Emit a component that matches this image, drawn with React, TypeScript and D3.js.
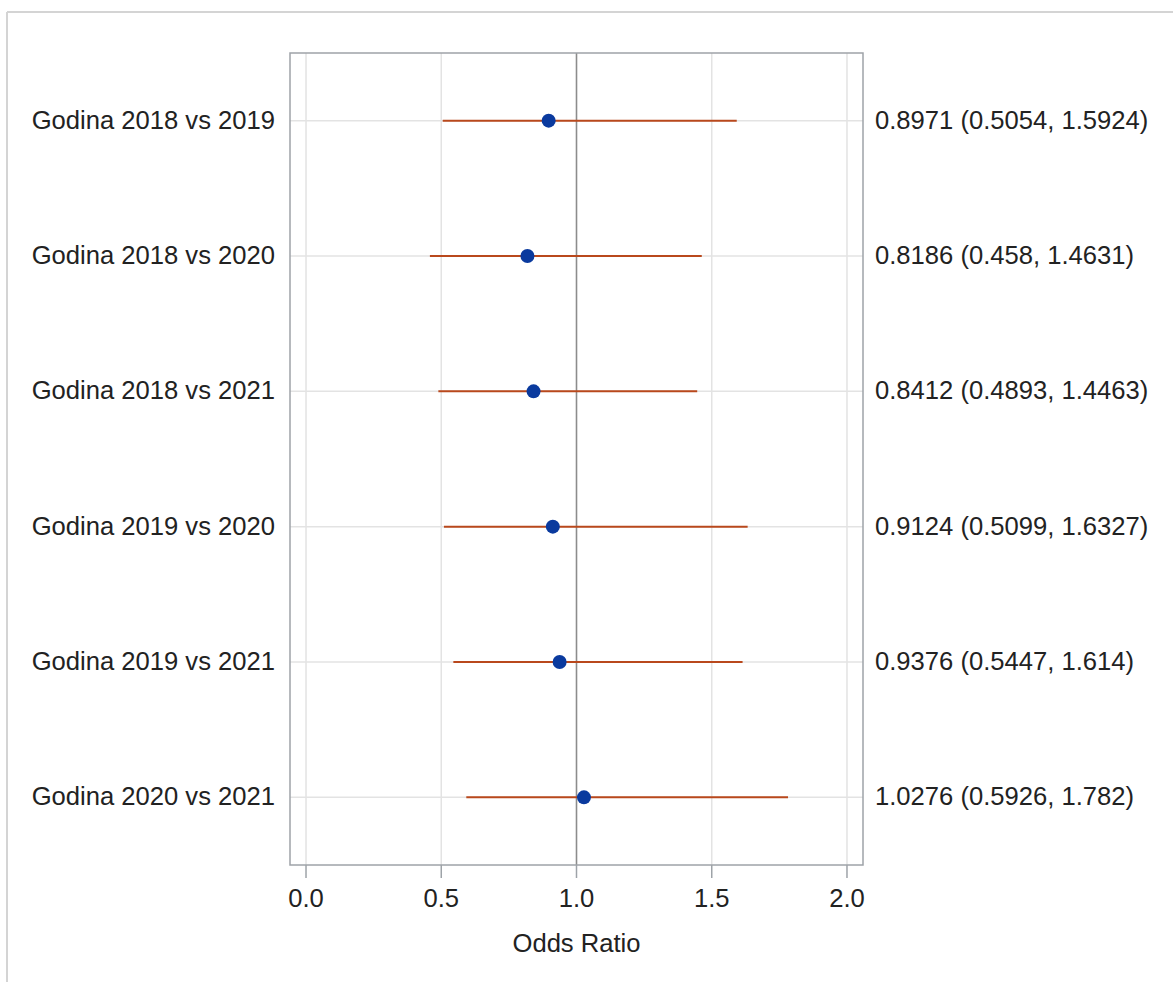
import * as d3 from "d3";

const labels = [
  "Godina 2018 vs 2019",
  "Godina 2018 vs 2020",
  "Godina 2018 vs 2021",
  "Godina 2019 vs 2020",
  "Godina 2019 vs 2021",
  "Godina 2020 vs 2021",
];
const oddsRatio = [0.8971, 0.8186, 0.8412, 0.9124, 0.9376, 1.0276];
const lower = [0.5054, 0.458, 0.4893, 0.5099, 0.5447, 0.5926];
const upper = [1.5924, 1.4631, 1.4463, 1.6327, 1.614, 1.782];
const xTicks = [0, 0.5, 1, 1.5, 2];

const W = 1173;
const H = 982;
const frame = { left: 290, right: 863, top: 53, bottom: 865 };
const font = "'Liberation Sans', Arial, Helvetica, sans-serif";
const fs = 25.6;

export default function App() {
  const x = d3
    .scaleLinear()
    .domain([-0.0592, 2.0592])
    .range([frame.left, frame.right]);
  const y = d3
    .scalePoint<string>()
    .domain(labels)
    .range([frame.top, frame.bottom])
    .padding(0.5);

  const rows = labels.map((l, i) => ({
    label: l,
    or: oddsRatio[i],
    lo: lower[i],
    hi: upper[i],
    y: y(l) ?? 0,
  }));

  return (
    <svg
      width={W}
      height={H}
      style={{ position: "absolute", left: 0, top: 0, background: "#fff" }}
      fontFamily={font}
    >
      {/* outer panel border */}
      <line x1={7} x2={W} y1={12} y2={12} stroke="#d4d4d4" strokeWidth={2} />
      <line x1={7} x2={7} y1={12} y2={H} stroke="#d4d4d4" strokeWidth={2} />

      {/* vertical grid */}
      {xTicks.map((t) => (
        <line
          key={"gx" + t}
          x1={x(t)}
          x2={x(t)}
          y1={frame.top}
          y2={frame.bottom}
          stroke="#e3e3e3"
          strokeWidth={1.5}
        />
      ))}
      {/* horizontal grid */}
      {rows.map((r) => (
        <line
          key={"gy" + r.label}
          x1={frame.left}
          x2={frame.right}
          y1={r.y}
          y2={r.y}
          stroke="#e3e3e3"
          strokeWidth={1.5}
        />
      ))}

      {/* reference line at 1 */}
      <line
        x1={x(1)}
        x2={x(1)}
        y1={frame.top}
        y2={frame.bottom}
        stroke="#8c8c8c"
        strokeWidth={1.5}
      />

      {/* CI lines and points */}
      {rows.map((r) => (
        <g key={"m" + r.label}>
          <line
            x1={x(r.lo)}
            x2={x(r.hi)}
            y1={r.y}
            y2={r.y}
            stroke="#b9481c"
            strokeWidth={2}
          />
          <circle cx={x(r.or)} cy={r.y} r={7} fill="#0a3a9e" />
        </g>
      ))}

      {/* frame */}
      <rect
        x={frame.left}
        y={frame.top}
        width={frame.right - frame.left}
        height={frame.bottom - frame.top}
        fill="none"
        stroke="#9ea3a8"
        strokeWidth={1.5}
      />

      {/* row labels */}
      {rows.map((r) => (
        <text
          key={"l" + r.label}
          x={275}
          y={r.y + 8}
          textAnchor="end"
          fontSize={fs}
          fill="#222"
        >
          {r.label}
        </text>
      ))}

      {/* value labels */}
      {rows.map((r) => (
        <text
          key={"v" + r.label}
          x={875}
          y={r.y + 8}
          fontSize={fs}
          fill="#222"
        >
          {`${r.or} (${r.lo}, ${r.hi})`}
        </text>
      ))}

      {/* x axis ticks */}
      {xTicks.map((t) => (
        <g key={"t" + t}>
          <line
            x1={x(t)}
            x2={x(t)}
            y1={frame.bottom}
            y2={frame.bottom + 13}
            stroke="#9ea3a8"
            strokeWidth={1.5}
          />
          <text
            x={x(t)}
            y={907}
            textAnchor="middle"
            fontSize={fs}
            fill="#222"
          >
            {d3.format(".1f")(t)}
          </text>
        </g>
      ))}

      <text
        x={(frame.left + frame.right) / 2}
        y={952}
        textAnchor="middle"
        fontSize={fs}
        fill="#222"
      >
        Odds Ratio
      </text>
    </svg>
  );
}
